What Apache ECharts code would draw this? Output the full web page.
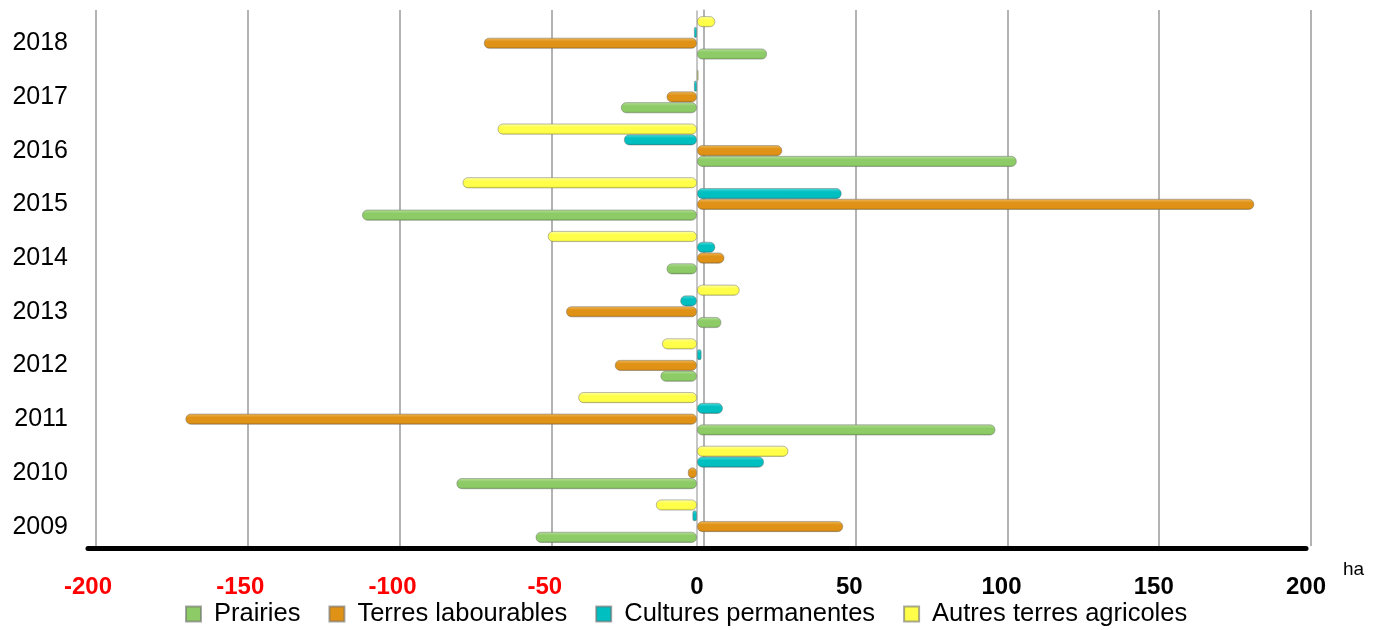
<!DOCTYPE html>
<html>
<head>
<meta charset="utf-8">
<script src="https://cdn.jsdelivr.net/npm/echarts@6/dist/echarts.min.js"></script>
<style>
  html, body { margin: 0; padding: 0; background: #fff; }
  #chart { width: 1381px; height: 630px; }
</style>
</head>
<body>
<div id="chart"></div>
<script>
const years = ["2009", "2010", "2011", "2012", "2013", "2014", "2015", "2016", "2017", "2018"];
const prairies = [-53, -79, 98, -12, 8, -10, -110, 105, -25, 23];
const terresLabourables = [48, -3, -168, -27, -43, 9, 183, 28, -10, -70];
const culturesPermanentes = [-1.5, 22, 8.5, 1.5, -5.5, 6, 47.5, -24, -1, -1];
const autresTerres = [-13.5, 30, -39, -11.5, 14, -49, -77, -65.5, 0.5, 6];
const xTicks = [-200, -150, -100, -50, 0, 50, 100, 150, 200];

const font = "Liberation Sans";

// cylinder look : light top, base colour, dark bottom
const tube = (light, base, dark) => ({
  type: "linear", x: 0, y: 0, x2: 0, y2: 1,
  colorStops: [
    { offset: 0, color: light },
    { offset: 0.35, color: base },
    { offset: 0.8, color: base },
    { offset: 1, color: dark },
  ],
});

const seriesDefs = [
  { name: "Prairies", data: prairies, color: "#8dcb66", grad: tube("#b5e09a", "#8dcb66", "#6fa84d") },
  { name: "Terres labourables", data: terresLabourables, color: "#df9216", grad: tube("#f0b95c", "#df9216", "#b87409") },
  { name: "Cultures permanentes", data: culturesPermanentes, color: "#00bfc0", grad: tube("#4fdcdc", "#00bfc0", "#009899") },
  { name: "Autres terres agricoles", data: autresTerres, color: "#ffff4a", grad: tube("#ffffa8", "#ffff4a", "#dada30") },
];

const chart = echarts.init(document.getElementById("chart"));

chart.setOption({
  animation: false,
  textStyle: { fontFamily: font },
  legend: {
    bottom: -2,
    left: 180,
    itemWidth: 15,
    itemHeight: 15,
    itemGap: 28,
    icon: "rect",
    textStyle: { fontSize: 25.5, color: "#000", fontFamily: font, padding: [0, 0, 0, 8] },
    data: seriesDefs.map((s) => ({ name: s.name, itemStyle: { color: s.color } })),
  },
  grid: [
    // front plane (bars, labels)
    { left: 88, right: 75, top: 11, bottom: 82 },
    // back plane (grid lines)
    { left: 96, right: 70, top: 10, bottom: 84 },
  ],
  xAxis: [
    {
      gridIndex: 0,
      type: "value",
      min: -200,
      max: 200,
      interval: 50,
      splitLine: { show: false },
      axisTick: { show: false },
      axisLine: { show: true, onZero: false, lineStyle: { color: "#000", width: 5 } },
      axisLabel: {
        margin: 27,
        fontSize: 24,
        fontWeight: "bold",
        fontFamily: font,
        color: (v) => (Number(v) < 0 ? "#ff0000" : "#000"),
        formatter: (v) => (xTicks.includes(v) ? String(v) : ""),
      },
      name: "ha",
      nameLocation: "end",
      nameGap: 37,
      nameTextStyle: { fontSize: 19, color: "#000", verticalAlign: "top", padding: [12, 0, 0, 0], fontFamily: font },
    },
    {
      gridIndex: 1,
      type: "value",
      min: -200,
      max: 200,
      interval: 50,
      axisLine: { show: false },
      axisTick: { show: false },
      axisLabel: { show: false },
      splitLine: { show: true, lineStyle: { color: "#b3b3b3", width: 2 } },
    },
  ],
  yAxis: [
    {
      gridIndex: 0,
      type: "category",
      data: years,
      axisTick: { show: false },
      axisLine: { show: true, lineStyle: { color: "#b3b3b3", width: 1.5 } },
      axisLabel: {
        margin: 20,
        formatter: (v) => "{y|" + v + "}",
        rich: { y: { fontSize: 25, color: "#000", fontFamily: font, padding: [11, 0, 0, 0] } },
      },
    },
    {
      gridIndex: 1,
      type: "category",
      data: years,
      axisTick: { show: false },
      axisLabel: { show: false },
      axisLine: { show: true, lineStyle: { color: "#b3b3b3", width: 1.5 } },
    },
  ],
  // first series is drawn at the top of each band, so go from yellow down to green
  series: seriesDefs.slice().reverse().map((s) => ({
    name: s.name,
    type: "bar",
    xAxisIndex: 0,
    yAxisIndex: 0,
    data: s.data,
    barWidth: 11,
    barGap: "-2%",
    barCategoryGap: "20%",
    itemStyle: {
      color: s.grad,
      borderColor: "rgba(110,110,110,0.6)",
      borderWidth: 0.8,
      borderRadius: 5,
    },
  })),
});
</script>
</body>
</html>
